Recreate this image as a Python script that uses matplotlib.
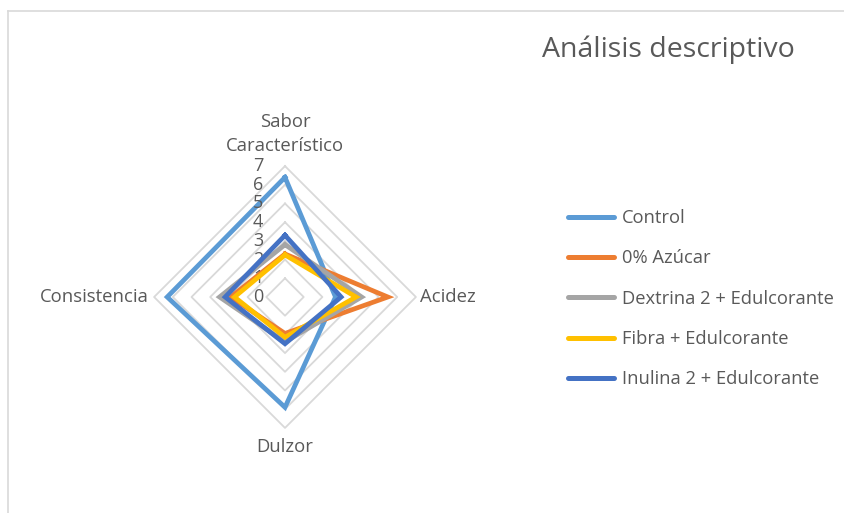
import numpy as np
import matplotlib.pyplot as plt
from matplotlib.lines import Line2D

plt.rcParams['font.family'] = ['Open Sans', 'DejaVu Sans']

categories = ['Sabor\nCaracterístico', 'Acidez', 'Dulzor', 'Consistencia']
series_names = ['Control', '0% Azúcar', 'Dextrina 2 + Edulcorante',
                'Fibra + Edulcorante', 'Inulina 2 + Edulcorante']
control = [6.4, 2.7, 5.9, 6.3]
azucar0 = [2.3, 5.5, 1.95, 2.9]
dextrina = [2.8, 4.1, 2.4, 3.5]
fibra = [2.25, 3.8, 2.15, 2.7]
inulina = [3.3, 3.0, 2.5, 3.2]
ticks = [0, 1, 2, 3, 4, 5, 6, 7]

colors = ['#5B9BD5', '#ED7D31', '#A5A5A5', '#FFC000', '#4472C4']
txt = '#595959'

W, H = 845, 513
fig = plt.figure(figsize=(W / 100, H / 100), dpi=100)

# center of radar in pixels (from top), px per unit
cx, cy, unit = 285, 297, 18.7
half = 185
ax = fig.add_axes([(cx - half) / W, (H - cy - half) / H, 2 * half / W, 2 * half / H])
lim = half / unit
ax.set_xlim(-lim, lim)
ax.set_ylim(-lim, lim)
ax.axis('off')

# clockwise from top, like Excel
ang = np.pi / 2 - np.arange(len(categories)) * 2 * np.pi / len(categories)

def xy(vals):
    v = np.asarray(vals, dtype=float)
    v = np.append(v, v[0])
    a = np.append(ang, ang[0])
    return v * np.cos(a), v * np.sin(a)

# grid
for t in ticks[1:]:
    gx, gy = xy([t] * len(categories))
    ax.plot(gx, gy, color='#d9d9d9', lw=1.3, zorder=1)

# value labels on top axis
for t in ticks:
    ax.text(-1.15, t, str(t), ha='right', va='center', fontsize=13, color=txt)

# category labels
ax.text(0, 7.6, categories[0], ha='center', va='bottom', fontsize=13.3,
        color=txt, linespacing=1.4)
ax.text(7.2, 0, categories[1], ha='left', va='center', fontsize=13.3, color=txt)
ax.text(0, -7.55, categories[2], ha='center', va='top', fontsize=13.3, color=txt)
ax.text(-7.3, 0, categories[3], ha='right', va='center', fontsize=13.3, color=txt)

data = [control, azucar0, dextrina, fibra, inulina]
for i, (name, vals) in enumerate(zip(series_names, data)):
    px, py = xy(vals)
    ax.plot(px, py, color=colors[i], lw=3.4, label=name, zorder=2 + i,
            solid_joinstyle='miter')

fig.text(668 / W, 1 - 50 / H, 'Análisis descriptivo', ha='center', va='center',
         fontsize=20.5, color=txt)

leg = fig.legend(loc='upper left', bbox_to_anchor=(568 / W, 1 - 209 / H),
                 frameon=False, fontsize=13.2, handlelength=2.5, handletextpad=0.45,
                 labelspacing=1.22, borderpad=0, borderaxespad=0)
for t in leg.get_texts():
    t.set_color(txt)
for h in leg.legend_handles:
    h.set_linewidth(3.6)
    h.set_solid_capstyle('round')

# chart border (cropped)
fig.add_artist(Line2D([8.5 / W, 8.5 / W], [0, 1 - 10.5 / H], color='#d9d9d9', lw=1.2))
fig.add_artist(Line2D([8.5 / W, 1], [1 - 10.5 / H, 1 - 10.5 / H], color='#d9d9d9', lw=1.2))

fig.savefig('out.png', dpi=100)
